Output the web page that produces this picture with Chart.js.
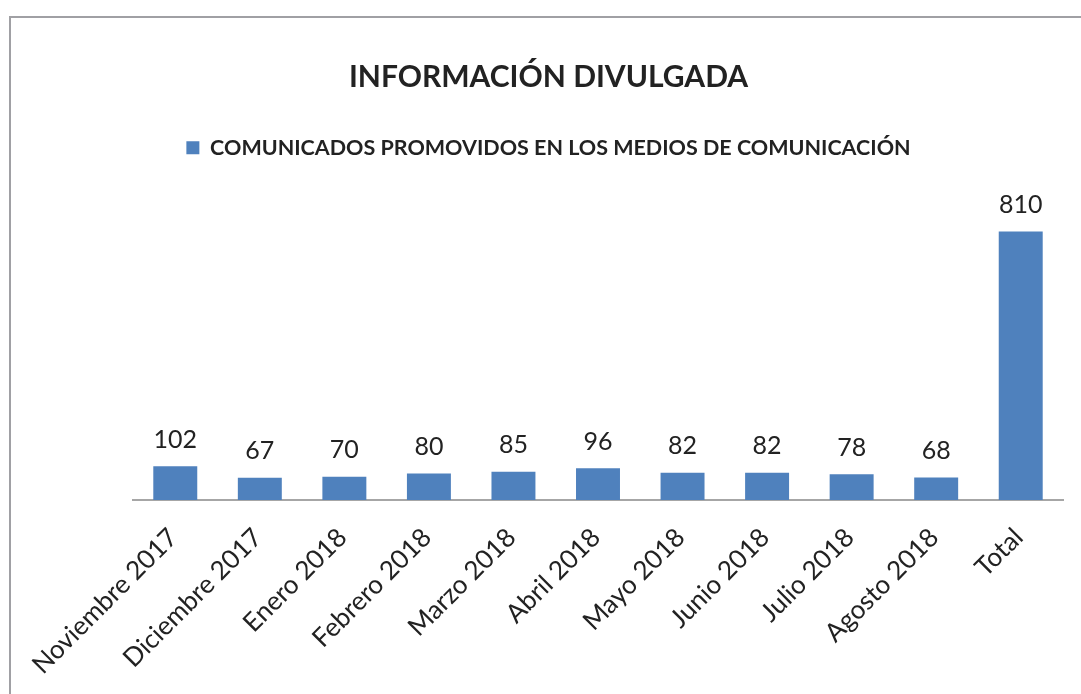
<!DOCTYPE html>
<html>
<head>
<meta charset="utf-8">
<script src="https://cdn.jsdelivr.net/npm/chart.js@4.4.1/dist/chart.umd.min.js"></script>
<style>
html,body{margin:0;padding:0;background:#fff;overflow:hidden;}
#wrap{position:absolute;left:0;top:0;width:1081px;height:694px;}
#frame{position:absolute;left:9px;top:16px;width:1200px;height:800px;border:2px solid #a0a0a4;box-sizing:border-box;pointer-events:none;}
</style>
</head>
<body>
<div id="wrap"><canvas id="c" width="1081" height="694"></canvas></div>
<div id="frame"></div>
<script>
const categories = ["Noviembre 2017","Diciembre 2017","Enero 2018","Febrero 2018","Marzo 2018","Abril 2018","Mayo 2018","Junio 2018","Julio 2018","Agosto 2018","Total"];
const seriesName = "COMUNICADOS PROMOVIDOS EN LOS MEDIOS DE COMUNICACIÓN";
const values = [102,67,70,80,85,96,82,82,78,68,810];
const chartTitle = "INFORMACIÓN DIVULGADA";

const FONT = "Lato, 'Open Sans', sans-serif";

const labelPlugin = {
  id: 'valueLabels',
  afterDatasetsDraw(chart) {
    const ctx = chart.ctx;
    const meta = chart.getDatasetMeta(0);
    ctx.save();
    ctx.font = "25px " + FONT;
    ctx.fillStyle = "#222";
    ctx.textAlign = "center";
    ctx.textBaseline = "bottom";
    meta.data.forEach((bar, i) => {
      ctx.fillText(String(chart.data.datasets[0].data[i]), bar.x, bar.y - 14);
    });
    ctx.restore();
  }
};

new Chart(document.getElementById('c'), {
  type: 'bar',
  data: {
    labels: categories,
    datasets: [{
      label: seriesName,
      data: values,
      backgroundColor: '#4f81bd',
      borderWidth: 0,
      barPercentage: 0.52,
      categoryPercentage: 1.0
    }]
  },
  options: {
    responsive: false,
    animation: false,
    layout: { padding: { left: 34, right: 18, top: 0, bottom: 0 } },
    plugins: {
      title: {
        display: true,
        text: chartTitle,
        color: '#222',
        font: { family: FONT, size: 30, weight: 'bold' },
        padding: { top: 59, bottom: 32 }
      },
      legend: {
        display: true,
        labels: {
          color: '#222',
          font: { family: FONT, size: 21.5, weight: 'bold' },
          boxWidth: 13, boxHeight: 13,
          padding: 10
        }
      },
      tooltip: { enabled: false }
    },
    scales: {
      x: {
        grid: { display: false, drawTicks: false },
        border: { display: true, color: '#a6a6a6', width: 2 },
        ticks: { color: '#222', font: { family: FONT, size: 26 }, minRotation: 45, maxRotation: 45, padding: 22, labelOffset: -2 },
        afterFit(scale) { scale.height = 194; }
      },
      y: {
        display: true,
        min: 0,
        max: 1000,
        grid: { display: false, drawTicks: false },
        border: { display: false },
        ticks: { display: false },
        afterFit(scale) { scale.width = 99; }
      }
    }
  },
  plugins: [labelPlugin]
});
</script>
</body>
</html>
